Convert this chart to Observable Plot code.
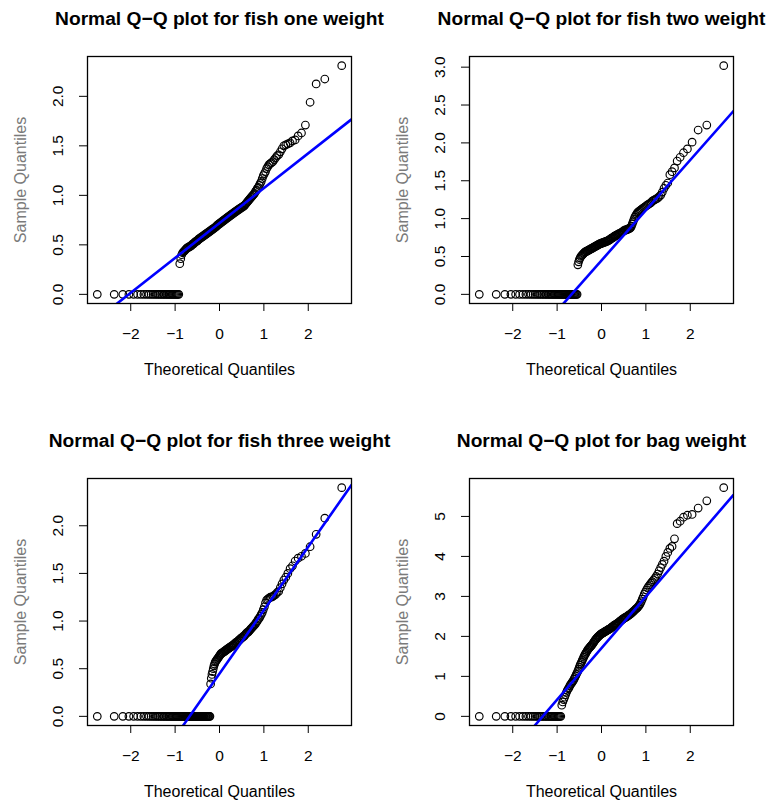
<!DOCTYPE html>
<html>
<head>
<meta charset="utf-8">
<script src="https://cdn.jsdelivr.net/npm/d3@7"></script>
<script src="https://cdn.jsdelivr.net/npm/@observablehq/plot@0.6"></script>
<style>
  html, body { margin: 0; padding: 0; background: #ffffff; overflow: hidden; }
  #chart { position: relative; width: 768px; height: 803px; }
  .panel { position: absolute; }
</style>
</head>
<body>
<div id="chart"></div>
<script>
// ---- Data (sorted sample values) ----
const fishOneWeight = [
  0,0,0,0,0,0,0,0,0,0, 0,0,0,0,0,0,0,0,0,0, 0,0,0,0,0,0,0,0,0,0, 0,
  0.31,0.36,0.40,0.42,0.43,0.44,0.45,0.46,0.47,
  0.47,0.48,0.48,0.49,0.49,0.50,0.51,0.51,0.52,0.53,
  0.53,0.54,0.54,0.55,0.56,0.56,0.57,0.57,0.58,0.58,
  0.59,0.59,0.60,0.60,0.61,0.61,0.62,0.62,0.63,0.63,
  0.64,0.64,0.65,0.65,0.66,0.66,0.67,0.67,0.68,0.68,
  0.69,0.70,0.70,0.71,0.71,0.72,0.72,0.73,0.73,0.74,
  0.74,0.75,0.75,0.76,0.76,0.77,0.77,0.78,0.78,0.79,
  0.79,0.80,0.80,0.81,0.81,0.82,0.82,0.83,0.83,0.84,
  0.84,0.85,0.85,0.86,0.86,0.87,0.87,0.88,0.88,0.89,
  0.89,0.90,0.91,0.92,0.93,0.94,0.95,0.96,0.97,0.98,
  0.99,1.00,1.01,1.02,1.04,1.05,1.07,1.08,1.10,1.12,
  1.14,1.17,1.20,1.22,1.24,1.27,1.29,1.31,1.32,1.33,
  1.34,1.36,1.38,1.40,1.41,1.44,1.47,1.50,1.51,1.52,
  1.53,1.55,1.56,1.60,1.63,1.71,1.94,2.125,2.175,2.31
];
const fishTwoWeight = [
  0,0,0,0,0,0,0,0,0,0, 0,0,0,0,0,0,0,0,0,0, 0,0,0,0,0,0,0,0,0,0,
  0,0,0,0,0,0,0,0,0,0, 0,0,0,0,0,0,0,0,0,0,
  0.39,0.43,0.46,0.48,0.50,0.51,0.52,0.53,0.54,0.55,
  0.56,0.56,0.57,0.57,0.58,0.58,0.59,0.59,0.60,0.60,
  0.61,0.61,0.62,0.62,0.63,0.63,0.64,0.64,0.65,0.65,
  0.66,0.66,0.67,0.67,0.67,0.68,0.68,0.68,0.69,0.69,
  0.69,0.70,0.70,0.70,0.71,0.71,0.72,0.72,0.73,0.74,
  0.74,0.75,0.75,0.76,0.77,0.77,0.78,0.78,0.79,0.79,
  0.80,0.80,0.81,0.81,0.82,0.82,0.83,0.84,0.84,0.85,
  0.85,0.85,0.86,0.86,0.87,0.87,0.88,0.90,0.93,0.96,
  0.99,1.02,1.04,1.06,1.08,1.09,1.10,1.11,1.12,1.13,
  1.14,1.15,1.16,1.17,1.18,1.19,1.20,1.21,1.23,1.24,
  1.25,1.26,1.27,1.29,1.31,1.35,1.40,1.44,1.47,1.58,
  1.62,1.67,1.76,1.81,1.87,1.92,2.01,2.17,2.235,3.02
];
const fishThreeWeight = [
  0,0,0,0,0,0,0,0,0,0, 0,0,0,0,0,0,0,0,0,0, 0,0,0,0,0,0,0,0,0,0,
  0,0,0,0,0,0,0,0,0,0, 0,0,0,0,0,0,0,0,0,0, 0,0,0,0,0,0,0,0,0,0,
  0,0,0,0,0,0,0,0,0,0, 0,
  0.34,0.40,0.44,0.47,0.50,0.53,0.55,0.57,0.58,
  0.59,0.60,0.61,0.62,0.63,0.64,0.65,0.66,0.66,0.67,
  0.67,0.68,0.68,0.69,0.69,0.70,0.70,0.71,0.71,0.72,
  0.72,0.73,0.73,0.74,0.74,0.75,0.75,0.76,0.77,0.77,
  0.78,0.78,0.79,0.80,0.80,0.81,0.82,0.82,0.83,0.84,
  0.84,0.85,0.86,0.87,0.88,0.88,0.89,0.90,0.91,0.92,
  0.93,0.94,0.95,0.96,0.97,0.99,1.00,1.02,1.03,1.05,
  1.07,1.09,1.12,1.15,1.19,1.22,1.23,1.24,1.25,1.25,
  1.26,1.27,1.28,1.30,1.31,1.35,1.39,1.43,1.46,1.50,
  1.55,1.58,1.63,1.66,1.68,1.71,1.78,1.91,2.08,2.40
];
const bagWeight = [
  0,0,0,0,0,0,0,0,0,0, 0,0,0,0,0,0,0,0,0,0, 0,0,0,0,0,0,0,0,0,0, 0,
  0.28,0.36,0.42,0.48,0.54,0.60,0.65,0.69,0.72,
  0.77,0.80,0.83,0.86,0.89,0.93,0.97,1.01,1.05,1.09,
  1.13,1.18,1.23,1.28,1.32,1.36,1.40,1.44,1.48,1.52,
  1.55,1.58,1.61,1.64,1.67,1.69,1.71,1.73,1.75,1.77,
  1.79,1.81,1.84,1.86,1.89,1.91,1.93,1.95,1.97,1.99,
  2.00,2.02,2.03,2.05,2.06,2.07,2.08,2.09,2.10,2.11,
  2.12,2.13,2.14,2.15,2.16,2.17,2.18,2.19,2.20,2.21,
  2.23,2.24,2.25,2.27,2.28,2.29,2.30,2.31,2.32,2.33,
  2.35,2.36,2.38,2.39,2.41,2.42,2.43,2.45,2.46,2.47,
  2.48,2.49,2.51,2.52,2.53,2.55,2.56,2.58,2.60,2.62,
  2.64,2.66,2.68,2.70,2.72,2.75,2.78,2.82,2.87,2.93,
  2.99,3.06,3.11,3.16,3.21,3.25,3.29,3.33,3.37,3.41,
  3.45,3.50,3.56,3.64,3.72,3.80,3.88,4.00,4.10,4.20,
  4.25,4.44,4.82,4.88,4.98,5.03,5.05,5.21,5.39,5.72
];

const panelTitles = [
  "Normal Q\u2212Q plot for fish one weight",
  "Normal Q\u2212Q plot for fish two weight",
  "Normal Q\u2212Q plot for fish three weight",
  "Normal Q\u2212Q plot for bag weight"
];
const xTicks = [-2, -1, 0, 1, 2];
const yTicksFishOne = [0, 0.5, 1.0, 1.5, 2.0];
const yTicksFishTwo = [0, 0.5, 1.0, 1.5, 2.0, 2.5, 3.0];
const yTicksFishThree = [0, 0.5, 1.0, 1.5, 2.0];
const yTicksBag = [0, 1, 2, 3, 4, 5];
const xLabel = "Theoretical Quantiles";
const yLabel = "Sample Quantiles";

// ---- Normal quantile function (inverse CDF) ----
function qnorm(p) {
  const a = [-3.969683028665376e+01, 2.209460984245205e+02, -2.759285104469687e+02, 1.383577518672690e+02, -3.066479806614716e+01, 2.506628277459239e+00];
  const b = [-5.447609879822406e+01, 1.615858368580409e+02, -1.556989798598866e+02, 6.680131188771972e+01, -1.328068155288572e+01];
  const c = [-7.784894002430293e-03, -3.223964580411365e-01, -2.400758277161838e+00, -2.549671010229583e+00, 4.374664141464968e+00, 2.938163982698783e+00];
  const d = [7.784695709041462e-03, 3.224671290700398e-01, 2.445134137142996e+00, 3.754408661907416e+00];
  const plow = 0.02425, phigh = 1 - plow;
  let q, r;
  if (p < plow) {
    q = Math.sqrt(-2 * Math.log(p));
    return (((((c[0]*q+c[1])*q+c[2])*q+c[3])*q+c[4])*q+c[5]) / ((((d[0]*q+d[1])*q+d[2])*q+d[3])*q+1);
  }
  if (p <= phigh) {
    q = p - 0.5; r = q * q;
    return (((((a[0]*r+a[1])*r+a[2])*r+a[3])*r+a[4])*r+a[5])*q / (((((b[0]*r+b[1])*r+b[2])*r+b[3])*r+b[4])*r+1);
  }
  q = Math.sqrt(-2 * Math.log(1 - p));
  return -(((((c[0]*q+c[1])*q+c[2])*q+c[3])*q+c[4])*q+c[5]) / ((((d[0]*q+d[1])*q+d[2])*q+d[3])*q+1);
}
// R ppoints()
function ppoints(n) {
  const a = n <= 10 ? 3 / 8 : 0.5;
  return d3.range(1, n + 1).map(i => (i - a) / (n + 1 - 2 * a));
}
// R quantile type 7
function quantile7(sorted, p) {
  const h = (sorted.length - 1) * p;
  const lo = Math.floor(h), hi = Math.ceil(h);
  return sorted[lo] + (h - lo) * (sorted[hi] - sorted[lo]);
}
function rDomain(lo, hi) {
  const pad = (hi - lo) * 0.04;
  return [lo - pad, hi + pad];
}

const panels = [
  {title: panelTitles[0], values: fishOneWeight, yTicks: yTicksFishOne, fmt: d3.format(".1f"), left: 0, top: 0},
  {title: panelTitles[1], values: fishTwoWeight, yTicks: yTicksFishTwo, fmt: d3.format(".1f"), left: 382, top: 0},
  {title: panelTitles[2], values: fishThreeWeight, yTicks: yTicksFishThree, fmt: d3.format(".1f"), left: 0, top: 422},
  {title: panelTitles[3], values: bagWeight, yTicks: yTicksBag, fmt: d3.format("d"), left: 382, top: 422}
];

const FONT = "'Liberation Sans', Arial, Helvetica, sans-serif";
const chart = document.getElementById("chart");

for (const pnl of panels) {
  const ys = pnl.values.slice().sort((a, b) => a - b);
  const probs = ppoints(ys.length);
  const pts = ys.map((y, i) => ({x: qnorm(probs[i]), y}));
  const xDomain = rDomain(d3.min(pts, d => d.x), d3.max(pts, d => d.x));
  const yDomain = rDomain(d3.min(ys), d3.max(ys));
  // qqline: through the first and third quartiles
  const q1 = quantile7(ys, 0.25), q3 = quantile7(ys, 0.75);
  const z1 = qnorm(0.25), z3 = qnorm(0.75);
  const slope = (q3 - q1) / (z3 - z1);
  const intercept = q1 - slope * z1;
  const lineData = xDomain.map(x => ({x, y: intercept + slope * x}));

  const svg = Plot.plot({
    width: 384,
    height: 380,
    marginLeft: 87,
    marginRight: 33,
    marginTop: 56,
    marginBottom: 77,
    x: {domain: xDomain, label: null},
    y: {domain: yDomain, label: null},
    style: {fontFamily: FONT, background: "transparent", color: "black", overflow: "visible"},
    marks: [
      Plot.dot(pts, {x: "x", y: "y", r: 3.8, stroke: "black", strokeWidth: 1.15, fill: "none"}),
      Plot.line(lineData, {x: "x", y: "y", stroke: "#0000ff", strokeWidth: 2.6, clip: true}),
      Plot.frame({stroke: "black", strokeWidth: 1.3}),
      Plot.axisX({ticks: xTicks, tickSize: 8, tickFormat: () => "", label: null, stroke: "black"}),
      Plot.axisY({ticks: pnl.yTicks, tickSize: 8, tickFormat: () => "", label: null, stroke: "black"}),
      Plot.text(xTicks, {x: d => d, text: d => d3.format("d")(d), frameAnchor: "bottom", dy: 35, lineAnchor: "bottom", textAnchor: "middle", fontSize: 15.5, fill: "black"}),
      Plot.text(pnl.yTicks, {y: d => d, text: d => pnl.fmt(d), frameAnchor: "left", dx: -29, rotate: -90, textAnchor: "middle", fontSize: 15.5, fill: "black"}),
      Plot.text([pnl.title], {text: d => d, frameAnchor: "top", dy: -32, lineAnchor: "bottom", textAnchor: "middle", fontSize: 19.2, fontWeight: "bold", fill: "black"}),
      Plot.text([xLabel], {text: d => d, frameAnchor: "bottom", dy: 71, lineAnchor: "bottom", textAnchor: "middle", fontSize: 16, fill: "black"}),
      Plot.text([yLabel], {text: d => d, frameAnchor: "left", dx: -62, rotate: -90, lineAnchor: "bottom", textAnchor: "middle", fontSize: 16, fill: "#7a7a7a"})
    ]
  });
  const div = document.createElement("div");
  div.className = "panel";
  div.style.left = pnl.left + "px";
  div.style.top = pnl.top + "px";
  div.appendChild(svg);
  chart.appendChild(div);
}
</script>
</body>
</html>
